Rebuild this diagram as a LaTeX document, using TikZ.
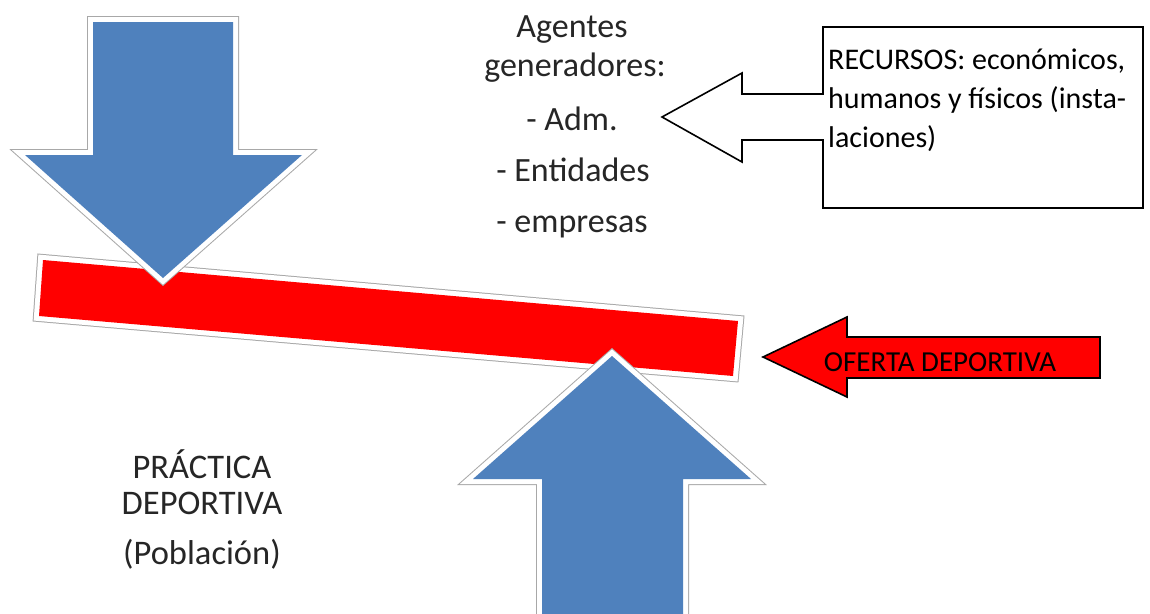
\documentclass[tikz,border=0pt]{standalone}
\usepackage{fontspec}
\setmainfont{Carlito}
\definecolor{ofblue}{HTML}{4F81BD}
\definecolor{rimgray}{HTML}{A8A8A8}
\definecolor{txtgray}{HTML}{262626}
\begin{document}
\begin{tikzpicture}[x=1pt,y=-1pt,
  rim/.style={line join=miter,
    preaction={draw=rimgray,line width=12pt},
    preaction={draw=white,line width=10pt}},
  bigtxt/.style={anchor=base,inner sep=0pt,text=txtgray,font=\fontsize{34}{40}\selectfont},
  boxtxt/.style={anchor=base west,inner sep=0pt,text=black,font=\fontsize{30}{39}\selectfont}]
\useasboundingbox (0,0) rectangle (1150,613);
\fill[white] (0,0) rectangle (1150,613);
% red bar
\path[rim,fill=red] (43,260) -- (738,321) -- (733,376) -- (39,316) -- cycle;
% down arrow
\path[rim,fill=ofblue] (93,22) -- (233,22) -- (233,155) -- (302,155) -- (163,278) -- (25,155) -- (93,155) -- cycle;
% up arrow
\path[rim,fill=ofblue] (542,640) -- (542,479) -- (473,479) -- (612,356) -- (751,479) -- (683,479) -- (683,640) -- cycle;
% resources box with outline arrow
\draw[line width=1.6pt,line join=miter,fill=white] (823,94) -- (742,94) -- (742,73) -- (662,117) -- (742,162) -- (742,140) -- (823,140) -- (823,208) -- (1143,208) -- (1143,27) -- (823,27) -- cycle;
\node[boxtxt] (r1) at (828,69) {RECURSOS: económicos,};
\node[boxtxt] (r2) at (828,108) {humanos y físicos (insta-};
\node[boxtxt] (r3) at (828,147) {laciones)};
% oferta arrow
\draw[line width=1.6pt,line join=miter,fill=red] (763,357) -- (847,317) -- (847,337) -- (1100,337) -- (1100,378) -- (847,378) -- (847,397) -- cycle;
\node[anchor=base,inner sep=0pt,font=\fontsize{29}{35}\selectfont] (of) at (940,371) {OFERTA DEPORTIVA};
% agentes
\node[bigtxt] (a1) at (572,37) {Agentes};
\node[bigtxt] (a2) at (575,76) {generadores:};
\node[bigtxt] (a3) at (572,130) {- Adm.};
\node[bigtxt] (a4) at (573,181) {- Entidades};
\node[bigtxt] (a5) at (572,232) {- empresas};
% practica
\node[bigtxt,font=\fontsize{34.5}{40}\selectfont] (p1) at (202,478) {PRÁCTICA};
\node[bigtxt,font=\fontsize{34.5}{40}\selectfont] (p2) at (202,514) {DEPORTIVA};
\node[bigtxt,font=\fontsize{34.5}{40}\selectfont] (p3) at (202,564) {(Población)};
\end{tikzpicture}
\end{document}
